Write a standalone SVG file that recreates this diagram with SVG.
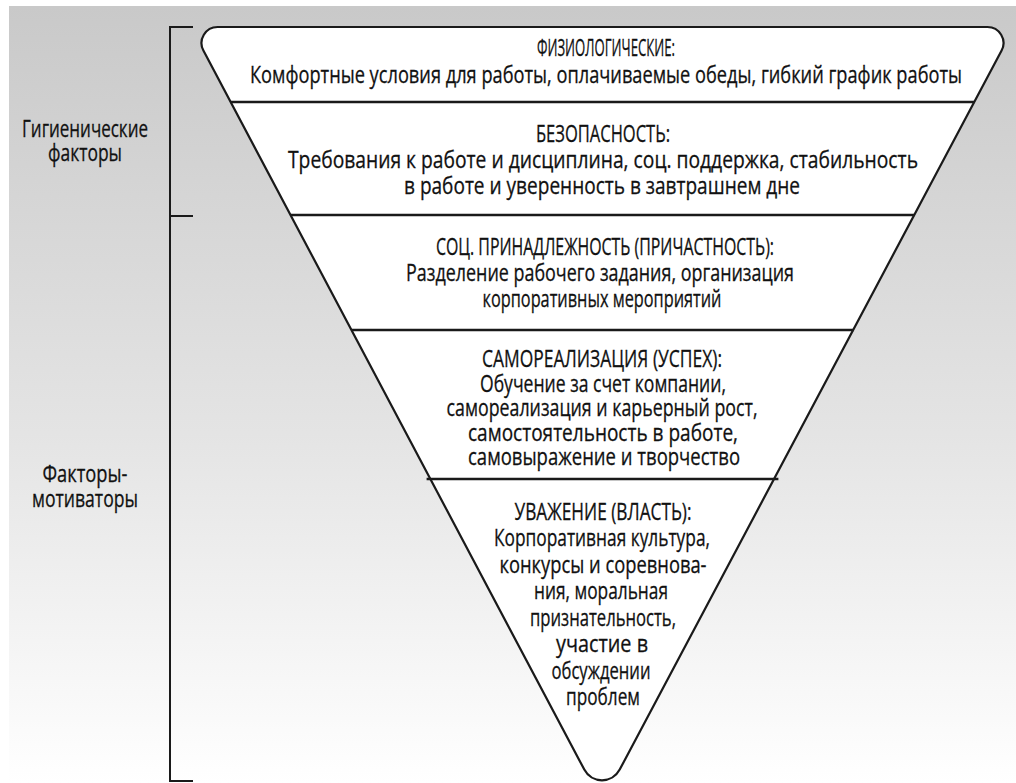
<svg xmlns="http://www.w3.org/2000/svg" width="1016" height="783" viewBox="0 0 1016 783">
<defs>
<linearGradient id="bg" x1="0" y1="0" x2="0" y2="1">
<stop offset="0" stop-color="#c9c9c9"/>
<stop offset="0.55" stop-color="#e4e4e4"/>
<stop offset="1" stop-color="#ffffff"/>
</linearGradient>
<style>
text{font-family:"Open Sans","DejaVu Sans",sans-serif;font-size:24px;fill:#111111;stroke:#111111;stroke-width:0.3;text-anchor:middle}
.div{stroke:#1a1a1a;stroke-width:2.5;fill:none}
.brk{stroke:#1a1a1a;stroke-width:2;fill:none}
</style>
</defs>
<rect x="0" y="0" width="1016" height="783" fill="#ffffff"/>
<rect x="9" y="6" width="1007" height="777" fill="url(#bg)"/>
<g id="bracket">
<path class="brk" d="M193,27 H170 V781 H193 M170,216 H193"/>
</g>
<g id="labels">
<text x="85" y="137" textLength="126" lengthAdjust="spacingAndGlyphs">Гигиенические</text>
<text x="85" y="161" textLength="74" lengthAdjust="spacingAndGlyphs">факторы</text>
<text x="85" y="482" textLength="85" lengthAdjust="spacingAndGlyphs">Факторы-</text>
<text x="85" y="507" textLength="106" lengthAdjust="spacingAndGlyphs">мотиваторы</text>
</g>
<g id="pyramid">
<path d="M217.6,27 L987.4,27 A16,16 0 0 1 1001.6,50.5 L619.7,769.6 A20,20 0 0 1 584.3,769.6 L203.4,50.5 A16,16 0 0 1 217.6,27 Z" fill="#ffffff"/>
</g>
<g id="connectors">
<line class="div" x1="230.7" y1="102" x2="974.3" y2="102"/>
<line class="div" x1="290.6" y1="215" x2="914.4" y2="215"/>
<line class="div" x1="351.5" y1="330" x2="853.5" y2="330"/>
<line class="div" x1="426.6" y1="479" x2="778.4" y2="479"/>
</g>
<path d="M217.6,27 L987.4,27 A16,16 0 0 1 1001.6,50.5 L619.7,769.6 A20,20 0 0 1 584.3,769.6 L203.4,50.5 A16,16 0 0 1 217.6,27 Z" fill="none" stroke="#1a1a1a" stroke-width="2.2"/>
<g id="level1">
<text x="606" y="56" textLength="138" lengthAdjust="spacingAndGlyphs">ФИЗИОЛОГИЧЕСКИЕ:</text>
<text x="606" y="83" textLength="712" lengthAdjust="spacingAndGlyphs">Комфортные условия для работы, оплачиваемые обеды, гибкий график работы</text>
</g>
<g id="level2">
<text x="603" y="142" textLength="134" lengthAdjust="spacingAndGlyphs">БЕЗОПАСНОСТЬ:</text>
<text x="603" y="168" textLength="630" lengthAdjust="spacingAndGlyphs">Требования к работе и дисциплина, соц. поддержка, стабильность</text>
<text x="602" y="194" textLength="396" lengthAdjust="spacingAndGlyphs">в работе и уверенность в завтрашнем дне</text>
</g>
<g id="level3">
<text x="605" y="255" textLength="338" lengthAdjust="spacingAndGlyphs">СОЦ. ПРИНАДЛЕЖНОСТЬ (ПРИЧАСТНОСТЬ):</text>
<text x="600" y="281" textLength="388" lengthAdjust="spacingAndGlyphs">Разделение рабочего задания, организация</text>
<text x="602" y="307" textLength="239" lengthAdjust="spacingAndGlyphs">корпоративных мероприятий</text>
</g>
<g id="level4">
<text x="602" y="367" textLength="240" lengthAdjust="spacingAndGlyphs">САМОРЕАЛИЗАЦИЯ (УСПЕХ):</text>
<text x="603" y="391.5" textLength="246" lengthAdjust="spacingAndGlyphs">Обучение за счет компании,</text>
<text x="602" y="416" textLength="311" lengthAdjust="spacingAndGlyphs">самореализация и карьерный рост,</text>
<text x="603" y="440.5" textLength="270" lengthAdjust="spacingAndGlyphs">самостоятельность в работе,</text>
<text x="604" y="465" textLength="272" lengthAdjust="spacingAndGlyphs">самовыражение и творчество</text>
</g>
<g id="level5">
<text x="603" y="519.5" textLength="177" lengthAdjust="spacingAndGlyphs">УВАЖЕНИЕ (ВЛАСТЬ):</text>
<text x="602" y="546" textLength="216" lengthAdjust="spacingAndGlyphs">Корпоративная культура,</text>
<text x="603" y="572.5" textLength="207" lengthAdjust="spacingAndGlyphs">конкурсы и соревнова-</text>
<text x="601" y="599" textLength="134" lengthAdjust="spacingAndGlyphs">ния, моральная</text>
<text x="603" y="625.5" textLength="146" lengthAdjust="spacingAndGlyphs">признательность,</text>
<text x="602" y="652" textLength="92" lengthAdjust="spacingAndGlyphs">участие в</text>
<text x="601" y="678.5" textLength="99" lengthAdjust="spacingAndGlyphs">обсуждении</text>
<text x="603" y="705" textLength="74" lengthAdjust="spacingAndGlyphs">проблем</text>
</g>
</svg>
